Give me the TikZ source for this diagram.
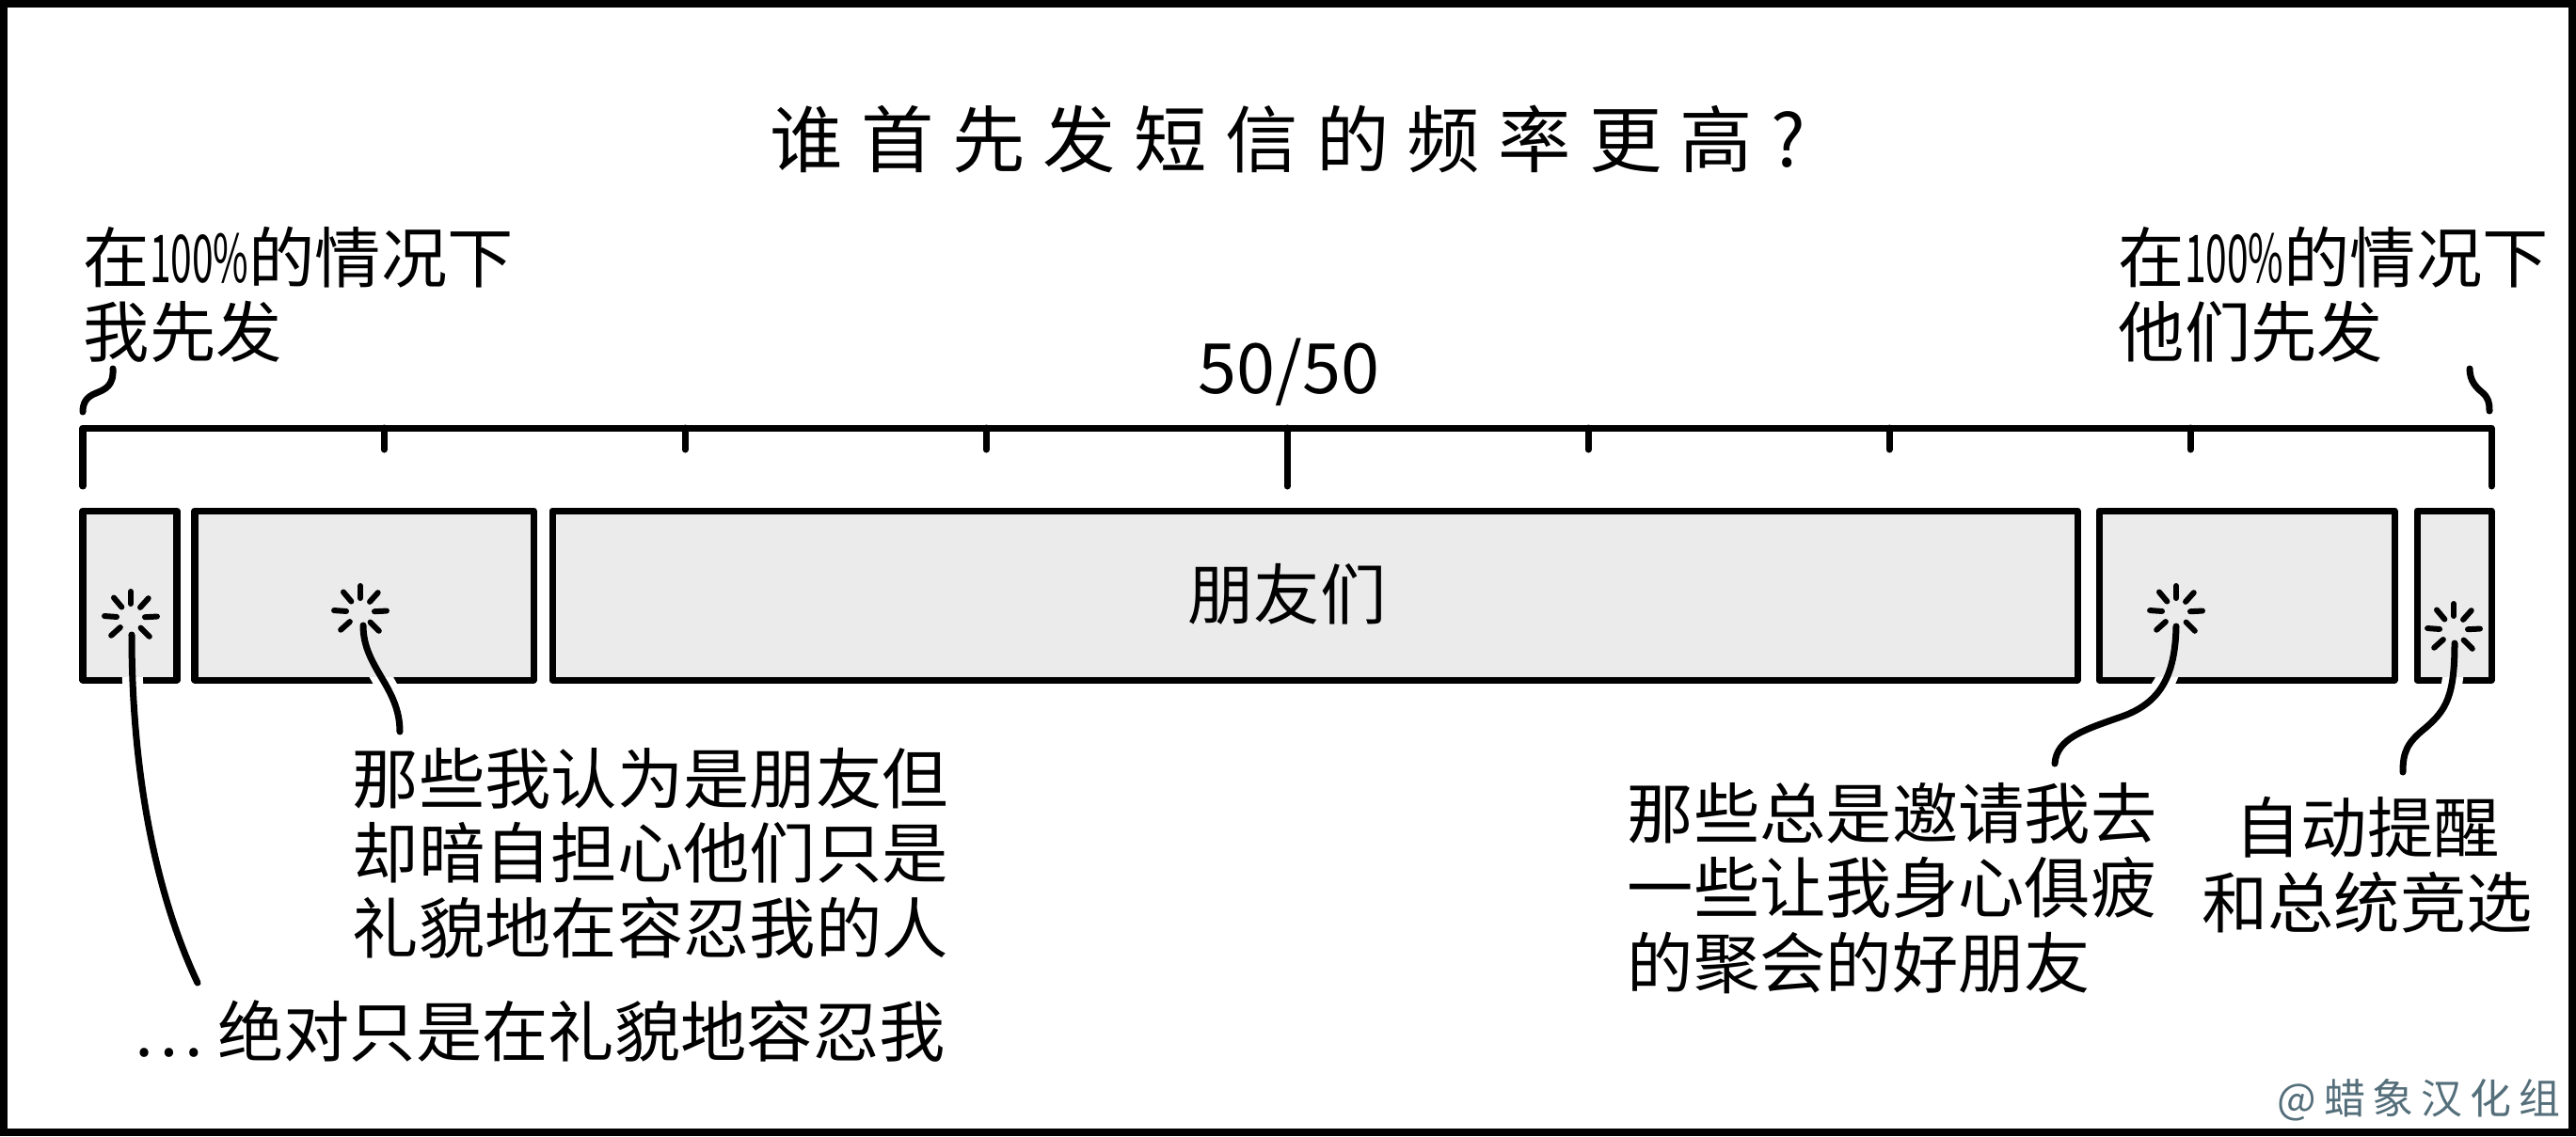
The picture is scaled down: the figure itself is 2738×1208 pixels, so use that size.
\documentclass[tikz,border=0pt]{standalone}
\usepackage{graphicx}
\usepackage{fontspec}
\newfontfamily\cjk{Noto Sans CJK SC}
\newfontfamily\cjkwide[LetterSpace=25]{Noto Sans CJK SC}
\newfontfamily\cjkmark[LetterSpace=18]{Noto Sans CJK SC}
\usetikzlibrary{calc}
\definecolor{barfill}{RGB}{235,235,235}
\definecolor{markgray}{RGB}{84,110,122}
\newcommand\squeeze[1]{\scalebox{.58}[1]{#1}}
\newcommand\leaderlines[1]{%
  \draw[#1] (l1a) .. controls (140,820) and (165,950) .. (l1b);
  \draw[#1] (l2a) .. controls (386,710) and (425,730) .. (l2b);
  \draw[#1] (l3a) .. controls (2312,720) and (2295,748) .. (2255,762)
                  .. controls (2215,776) and (2186,785) .. (l3b);
  \draw[#1] (l4a) .. controls (2609,740) and (2600,755) .. (2578,774)
                  .. controls (2558,790) and (2554,800) .. (l4b);
}
\begin{document}
\begin{tikzpicture}[x=0.01cm,y=-0.01cm,
    ink/.style={line width=0.07cm,line cap=round,line join=round},
    bar/.style={ink,fill=barfill},
    spark/.style={line width=0.06cm,line cap=round},
    halo/.style={draw=white,line width=0.22cm},
    txt/.style={font=\cjk\fontsize{20}{22.5}\selectfont,inner sep=0pt,align=left}]
   \useasboundingbox (0,0) rectangle (2738,1208);
   \draw[line width=0.08cm] (4,4) rectangle (2734,1204);

   \node[inner sep=0pt,font=\cjkwide\fontsize{22}{26}\selectfont] (title) at (1369,148) {谁首先发短信的频率更高?};

   \node[txt,anchor=north west] (mefirst) at (88,240) {在\squeeze{100\%}的情况下\\我先发};
   \node[txt,anchor=north west] (themfirst) at (2251,240) {在\squeeze{100\%}的情况下\\他们先发};
   \draw[ink] (120,392) .. controls (121,410) and (112,414) .. (102,418)
              .. controls (92,422) and (88,428) .. (88,438);
   \draw[ink] (2625,392) .. controls (2625,405) and (2632,412) .. (2638,417)
              .. controls (2645,423) and (2646,428) .. (2646,437);

   \node[inner sep=0pt,font=\cjk\fontsize{21}{24}\selectfont] (half) at (1370,396) {50/50};

   % scale
   \coordinate (axl) at (88,455);
   \coordinate (axr) at (2648,455);
   \draw[ink] ($(axl)+(0,62)$) -- (axl) -- (axr) -- ($(axr)+(0,62)$);
   \foreach \x in {408,728,1048,1688,2008,2328}
   {
       \draw[ink] (\x,455) -- (\x,478);
   }
   \draw[ink] (1368,455) -- (1368,517);

   % bars
   \foreach \l/\r in {88/188, 207/567, 587/2208, 2231/2545, 2569/2648}
   {
       \draw[bar] (\l,543) rectangle (\r,723);
   }
   \node[txt] (friends) at (1368,632) {朋友们};

   \coordinate (spark1) at (139,657);
   \coordinate (spark2) at (383,651);
   \coordinate (spark3) at (2313,651);
   \coordinate (spark4) at (2608,670);
   \coordinate (l1a) at (140,675);  \coordinate (l1b) at (210,1045);
   \coordinate (l2a) at (386,665);  \coordinate (l2b) at (425,778);
   \coordinate (l3a) at (2313,666); \coordinate (l3b) at (2184,812);
   \coordinate (l4a) at (2609,684); \coordinate (l4b) at (2554,821);

   \foreach \s in {spark1,spark2,spark3,spark4}
   {
       \foreach \a in {-90,-48,-3,45,138,-176,-130}
       {
           \draw[spark] ($(\s)+(\a:15)$) -- ($(\s)+(\a:28)$);
       }
   }

   \begin{scope}
       \clip (0,720) rectangle (2738,1208);
       \leaderlines{halo}
   \end{scope}
   \leaderlines{ink}

   \node[txt,anchor=north west] (polite) at (374,795) {那些我认为是朋友但\\却暗自担心他们只是\\礼貌地在容忍我的人};
   \node[txt,anchor=north west] (reallypolite) at (141,1063) {…\hspace{0.15cm}绝对只是在礼貌地容忍我};
   \node[txt,anchor=north west] (parties) at (1729,832) {那些总是邀请我去\\一些让我身心俱疲\\的聚会的好朋友};
   \node[txt,anchor=north,align=center] (robocall) at (2516,847) {自动提醒\\和总统竞选};

   \node[inner sep=0pt,text=markgray,font=\cjkmark\fontsize{12.5}{15}\selectfont] (credit) at (2571,1170) {@蜡象汉化组};
\end{tikzpicture}
\end{document}
